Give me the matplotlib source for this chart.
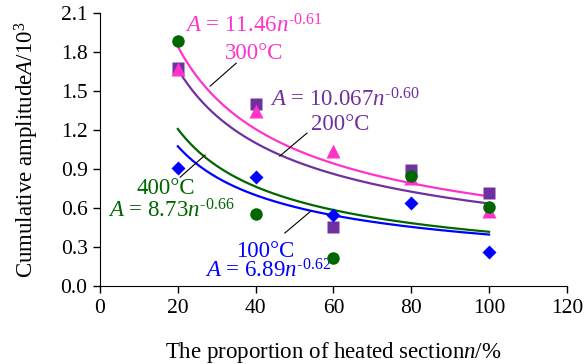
import numpy as np
import matplotlib
matplotlib.use("Agg")
import matplotlib.pyplot as plt

plt.rcParams['font.family'] = ['Liberation Serif', 'DejaVu Serif']
plt.rcParams['mathtext.fontset'] = 'custom'
plt.rcParams['mathtext.rm'] = 'Liberation Serif'
plt.rcParams['mathtext.it'] = 'Liberation Serif:italic'

n = [20, 40, 60, 80, 100]
a_100 = [0.905, 0.836, 0.544, 0.636, 0.26]
a_200 = [1.68, 1.40, 0.456, 0.89, 0.72]
a_300 = [1.67, 1.35, 1.04, 0.83, 0.58]
a_400 = [1.885, 0.554, 0.22, 0.85, 0.605]

# trendline coefficients shown on the chart: A = c * n^p
fit_100 = (6.89, -0.62)
fit_200 = (10.067, -0.60)
fit_300 = (11.46, -0.61)
fit_400 = (8.73, -0.66)

c_blue = '#0000FF'
c_purple = '#7030A0'
c_pink = '#FF33CC'
c_green = '#006600'

fig = plt.figure(figsize=(5.85, 3.64), dpi=100)
ax = fig.add_axes([0.171, 0.214, 0.798, 0.75])

nn = np.linspace(20, 100, 200)
for (c, p), col in [(fit_300, c_pink), (fit_200, c_purple), (fit_400, c_green), (fit_100, c_blue)]:
    ax.plot(nn, c * nn ** p, color=col, lw=1.6, zorder=2)

ax.plot(n, a_200, 's', color=c_purple, ms=8.5, zorder=3, mec='none')
ax.plot(n, a_300, '^', color=c_pink, ms=9.5, zorder=3, mec='none')
ax.plot(n, a_100, 'D', color=c_blue, ms=7.5, zorder=3, mec='none')
ax.plot(n, a_400, 'o', color=c_green, ms=9, zorder=4, mec='none')

H = '\u2010'
fs = 16.5
ax.text(21.8, 2.0, r'$A$ = 11.46$n^{\mathregular{' + H + '0.61}}$', color=c_pink, fontsize=fs, ha='left', va='center')
ax.text(39.6, 1.79, '300°C', color=c_pink, fontsize=fs, ha='center', va='center')
ax.plot([35.0, 28.3], [1.715, 1.538], color='black', lw=0.8)

ax.text(43.7, 1.43, r'$A$ = 10.067$n^{\mathregular{' + H + '0.60}}$', color=c_purple, fontsize=fs, ha='left', va='center')
ax.text(61.7, 1.24, '200°C', color=c_purple, fontsize=fs, ha='center', va='center')
ax.plot([53.2, 46.2], [1.177, 1.0], color='black', lw=0.8)

ax.text(17.0, 0.75, '400°C', color=c_green, fontsize=fs, ha='center', va='center')
ax.text(2.1, 0.58, r'$A$ = 8.73$n^{\mathregular{' + H + '0.66}}$', color=c_green, fontsize=fs, ha='left', va='center')
ax.plot([20.6, 27.0], [0.838, 1.008], color='black', lw=0.8)

ax.text(42.4, 0.27, '100°C', color=c_blue, fontsize=fs, ha='center', va='center')
ax.text(27.0, 0.115, r'$A$ = 6.89$n^{\mathregular{' + H + '0.62}}$', color=c_blue, fontsize=fs, ha='left', va='center')
ax.plot([47.5, 54.2], [0.408, 0.577], color='black', lw=0.8)

ax.set_xlim(0, 120)
ax.set_ylim(0, 2.1)
ax.set_xticks([0, 20, 40, 60, 80, 100, 120])
ax.set_yticks(np.arange(0, 2.11, 0.3))
ax.set_yticklabels([f'{v:.1f}' for v in np.arange(0, 2.11, 0.3)])
ax.tick_params(labelsize=15.5, direction='out', length=5, width=1, colors='black', pad=4)
ax.spines['top'].set_visible(False)
ax.spines['right'].set_visible(False)
ax.set_xlabel(r'The proportion of heated section$n$/%', fontsize=16.5, labelpad=16)
ax.set_ylabel(r'Cumulative amplitude$A$/10$^{\mathregular{3}}$', fontsize=16.5, labelpad=14)

fig.savefig('out.png', dpi=100)
